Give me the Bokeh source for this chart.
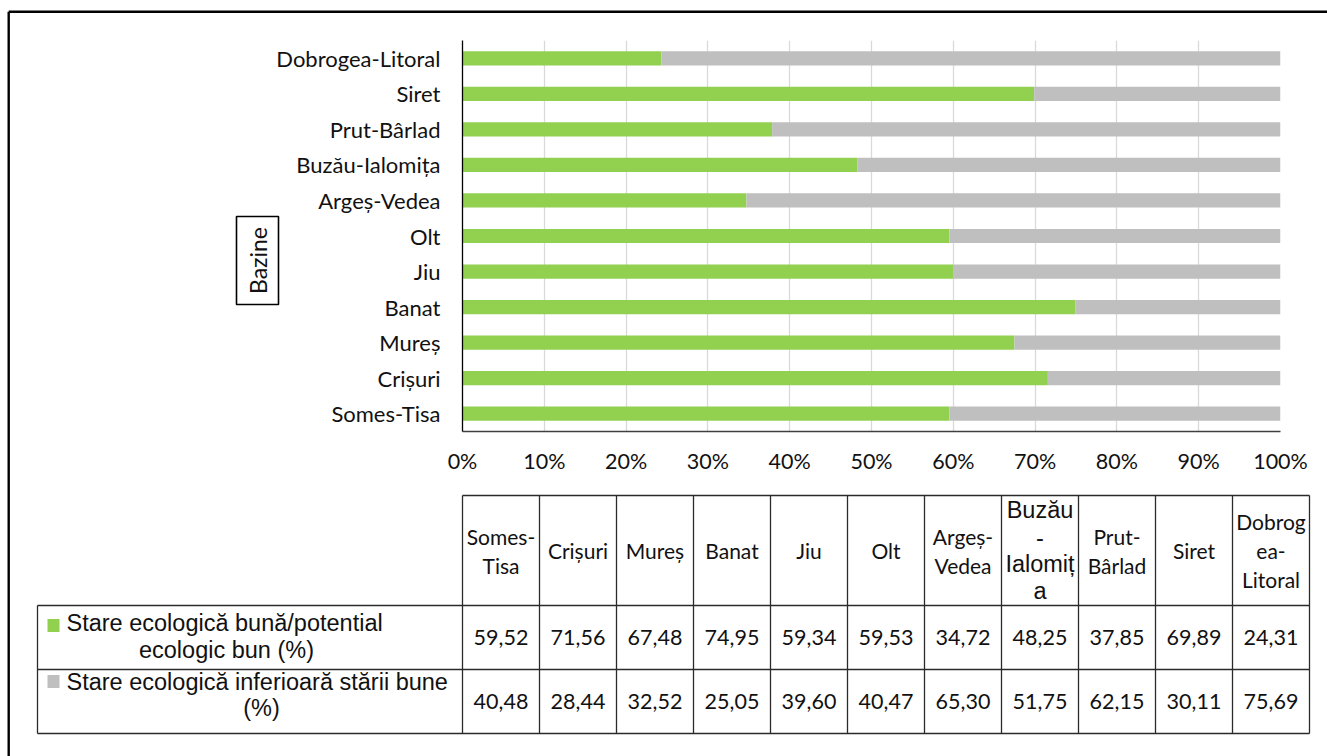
import math
from bokeh.plotting import figure
from bokeh.models import (ColumnDataSource, Range1d, PrintfTickFormatter, FixedTicker)
from bokeh.core.properties import value
from bokeh.embed import file_html
from bokeh.resources import INLINE

# ---------------- data ----------------
basins = ["Somes-Tisa", "Crișuri", "Mureș", "Banat", "Jiu", "Olt",
          "Argeș-Vedea", "Buzău-Ialomița", "Prut-Bârlad", "Siret",
          "Dobrogea-Litoral"]
good = [59.52, 71.56, 67.48, 74.95, 59.34, 59.53, 34.72, 48.25, 37.85, 69.89, 24.31]
bad = [40.48, 28.44, 32.52, 25.05, 39.60, 40.47, 65.30, 51.75, 62.15, 30.11, 75.69]
x_ticks = [0, 10, 20, 30, 40, 50, 60, 70, 80, 90, 100]
axis_title = "Bazine"
series_names = ["Stare ecologică bună/potential ecologic bun (%)",
                "Stare ecologică inferioară stării bune (%)"]
series_lines = [["Stare ecologică bună/potential", "ecologic bun (%)"],
                ["Stare ecologică inferioară stării bune", "(%)"]]
header_lines = [["Somes-", "Tisa"], ["Crișuri"], ["Mureș"], ["Banat"], ["Jiu"],
                ["Olt"], ["Argeș-", "Vedea"], ["Buzău", "-", "Ialomiț", "a"],
                ["Prut-", "Bârlad"], ["Siret"], ["Dobrog", "ea-", "Litoral"]]

GREEN = "#92d050"
GREY = "#bfbfbf"
CAL = "Lato"
ARIAL = "Liberation Sans"

# ---------------- derived (100% stacking) ----------------
n = len(basins)
pos = list(range(n))
tot = [g + b for g, b in zip(good, bad)]
g_end = [g / t * 100 for g, t in zip(good, tot)]
b_end = [(g + b) / t * 100 for g, b, t in zip(good, bad, tot)]
src = ColumnDataSource(dict(pos=pos, basin=basins, g_end=g_end, b_end=b_end))

# ---------------- figure ----------------
W, H = 1327, 756
FL, FR, FT, FB = 462, 1280, 40, 431   # plot frame edges (page pixels)
p = figure(width=W, height=H, y_range=Range1d(-0.5, n - 0.5), x_range=Range1d(0, 100),
           output_backend="svg", toolbar_location=None,
           min_border_left=FL, min_border_right=W - FR, min_border_top=FT,
           min_border_bottom=H - FB)
p.outline_line_color = None
p.background_fill_color = "white"
p.border_fill_color = "white"

p.hbar(y="pos", left=0, right="g_end", height=0.4, fill_color=GREEN,
       line_color=None, source=src)
p.hbar(y="pos", left="g_end", right="b_end", height=0.4, fill_color=GREY,
       line_color=None, source=src)

p.xaxis.ticker = FixedTicker(ticks=x_ticks)
p.xaxis.formatter = PrintfTickFormatter(format="%d%%")
p.xgrid.ticker = FixedTicker(ticks=x_ticks)
p.xgrid.grid_line_color = "#d9d9d9"
p.xgrid.grid_line_width = 1.3
p.ygrid.grid_line_color = None
p.yaxis.ticker = FixedTicker(ticks=pos)
p.yaxis.major_label_overrides = {i: b for i, b in zip(pos, basins)}

for ax in (p.xaxis, p.yaxis):
    ax.major_tick_line_color = None
    ax.minor_tick_line_color = None
    ax.major_label_text_font = CAL
    ax.major_label_text_color = "#111111"
p.xaxis.major_label_text_font_size = "21.5px"
p.yaxis.major_label_text_font_size = "22px"
p.xaxis.axis_line_color = "#404040"
p.xaxis.axis_line_width = 1.3
p.yaxis.axis_line_color = "#000000"
p.yaxis.axis_line_width = 1.3
p.xaxis.major_label_standoff = 10
p.yaxis.major_label_standoff = 16

# page-pixel coordinate system for the surrounding layout
p.extra_x_ranges = {"px": Range1d(FL, FR)}
p.extra_y_ranges = {"py": Range1d(FB, FT)}
OV = dict(x_range_name="px", y_range_name="py", level="overlay")

# outer frame lines (left + top)
p.segment(x0=[8.2, 8.2], y0=[11.3, 11.3], x1=[1340, 8.2], y1=[11.3, 800],
          line_color="black", line_width=2.4, **OV)

# axis title in a box
p.rect(x=[257], y=[260], width=[42], height=[88], fill_color="white",
       line_color="black", line_width=1.6, **OV)
p.text(x=[257], y=[260], text=[axis_title], angle=math.pi / 2,
       text_align="center", text_baseline="middle", text_font=value(CAL),
       text_font_size="23px", text_color="#111111", **OV)

# ---------------- data table ----------------
cw = 77
x_left = FL
edges = [x_left + cw * i for i in range(n + 1)]
y_top, y_h, y_r1, y_bot = 495, 605, 669, 733
tab_left = 37
sx0, sy0, sx1, sy1 = [], [], [], []
sx0 += [x_left, tab_left, tab_left, tab_left]
sy0 += [y_top, y_h, y_r1, y_bot]
sx1 += [edges[-1]] * 4
sy1 += [y_top, y_h, y_r1, y_bot]
sx0.append(tab_left); sy0.append(y_h); sx1.append(tab_left); sy1.append(y_bot)
for e in edges:
    sx0.append(e); sy0.append(y_top); sx1.append(e); sy1.append(y_bot)
p.segment(x0=sx0, y0=sy0, x1=sx1, y1=sy1, line_color="#2b2b2b", line_width=1.3, **OV)

# header texts
hx, hy, ht, hf, hs = [], [], [], [], []
yc = (y_top + y_h) / 2
for i, lines in enumerate(header_lines):
    xc = edges[i] + cw / 2
    is_arial = basins[i] == "Buzău-Ialomița"
    ls = 27 if is_arial else 29
    m = len(lines)
    for k, t in enumerate(lines):
        hx.append(xc)
        hy.append(yc + (k - (m - 1) / 2) * ls)
        ht.append(t)
        hf.append(ARIAL if is_arial else CAL)
        hs.append("23.5px" if is_arial else "21px")
p.text(x="x", y="y", text="t", text_font="f", text_font_size="s",
       source=ColumnDataSource(dict(x=hx, y=hy, t=ht, f=hf, s=hs)),
       text_align="center", text_baseline="middle", text_color="#111111", **OV)

# values
vx, vy, vt = [], [], []
for r, vals in enumerate([good, bad]):
    ymid = (y_h + y_r1) / 2 if r == 0 else (y_r1 + y_bot) / 2
    for i, v in enumerate(vals):
        vx.append(edges[i] + cw / 2)
        vy.append(ymid)
        vt.append(f"{v:.2f}".replace(".", ","))
p.text(x=vx, y=vy, text=vt, text_align="center", text_baseline="middle",
       text_font=value(CAL), text_font_size="21.5px", text_color="#111111", **OV)

# legend keys + series names
p.rect(x=[53, 53], y=[625, 681], width=[12, 12], height=[13, 13],
       fill_color=[GREEN, GREY], line_color=None, **OV)
p.text(x=[66, 66], y=[622, 681], text=[series_lines[0][0], series_lines[1][0]],
       text_align="left", text_baseline="middle", text_font=value(ARIAL),
       text_font_size="23.5px", text_color="#111111", **OV)
p.text(x=[226, 261], y=[649, 707], text=[series_lines[0][1], series_lines[1][1]],
       text_align="center", text_baseline="middle", text_font=value(ARIAL),
       text_font_size="23.5px", text_color="#111111", **OV)

open("out.html", "w").write(file_html(p, INLINE))
